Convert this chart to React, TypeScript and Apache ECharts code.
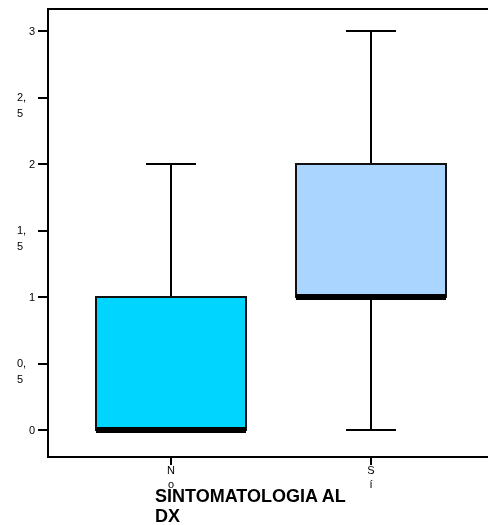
import React, { useEffect, useRef } from "react";
import * as echarts from "echarts";

// Box plot values for each group of SINTOMATOLOGIA AL DX
const categories = ["No", "Sí"];
const whiskerLow = [0, 0];
const q1 = [0, 1];
const medians = [0, 1];
const q3 = [1, 2];
const whiskerHigh = [2, 3];
const boxColors = ["#00D5FF", "#A9D5FF"];

// Y axis ticks; whole numbers and halves are labelled on separate axes
const yTicks = [0, 0.5, 1, 1.5, 2, 2.5, 3];
const yWholeLabels = [0, 1, 2, 3];
const yHalfLabels = [0.5, 1.5, 2.5];

const FONT = "Liberation Sans, Arial, Helvetica, sans-serif";

export default function App() {
  const ref = useRef<HTMLDivElement>(null);

  useEffect(() => {
    if (!ref.current) return;
    const chart = echarts.init(ref.current, null, { renderer: "svg" });

    const boxData = categories.map((_, i) => [
      i,
      whiskerLow[i],
      q1[i],
      medians[i],
      q3[i],
      whiskerHigh[i],
    ]);

    const renderItem = (params: any, api: any) => {
      const idx = api.value(0);
      const band = api.size([1, 0])[0];
      const boxW = band * 0.75;
      const capW = band * 0.25;
      const pLow = api.coord([idx, api.value(1)]);
      const pQ1 = api.coord([idx, api.value(2)]);
      const pMed = api.coord([idx, api.value(3)]);
      const pQ3 = api.coord([idx, api.value(4)]);
      const pHigh = api.coord([idx, api.value(5)]);
      const cx = pQ1[0];
      const lineStyle = { stroke: "#000", lineWidth: 2 };
      return {
        type: "group",
        children: [
          {
            type: "line",
            shape: { x1: cx, y1: pQ3[1], x2: cx, y2: pHigh[1] },
            style: lineStyle,
          },
          {
            type: "line",
            shape: { x1: cx - capW / 2, y1: pHigh[1], x2: cx + capW / 2, y2: pHigh[1] },
            style: lineStyle,
          },
          {
            type: "line",
            shape: { x1: cx, y1: pQ1[1], x2: cx, y2: pLow[1] },
            style: lineStyle,
          },
          {
            type: "line",
            shape: { x1: cx - capW / 2, y1: pLow[1], x2: cx + capW / 2, y2: pLow[1] },
            style: lineStyle,
          },
          {
            type: "rect",
            shape: {
              x: cx - boxW / 2,
              y: pQ3[1],
              width: boxW,
              height: pQ1[1] - pQ3[1],
            },
            style: { fill: boxColors[idx], stroke: "#111", lineWidth: 2 },
          },
          {
            type: "line",
            shape: { x1: cx - boxW / 2, y1: pMed[1], x2: cx + boxW / 2, y2: pMed[1] },
            style: { stroke: "#000", lineWidth: 6 },
          },
        ],
      };
    };

    const fmt = (v: number) => String(v).replace(".", ",");

    chart.setOption({
      animation: false,
      grid: { left: 71, right: 17, top: 9, bottom: 68 },
      xAxis: {
        type: "category",
        data: categories,
        boundaryGap: true,
        axisLine: { show: false, onZero: false },
        axisTick: {
          show: true,
          alignWithLabel: true,
          length: 8,
          lineStyle: { color: "#000", width: 2 },
        },
        axisLabel: {
          margin: 6,
          fontFamily: FONT,
          fontSize: 11,
          lineHeight: 14,
          color: "#000",
          formatter: (v: string) => v.split("").join("\n"),
        },
      },
      yAxis: [
        {
          type: "value",
          min: -0.203,
          max: 3.165,
          offset: 23,
          axisLine: { show: true, lineStyle: { color: "#000", width: 2 } },
          axisTick: {
            show: true,
            length: 10,
            customValues: yTicks,
            lineStyle: { color: "#000", width: 2 },
          },
          splitLine: { show: false },
          axisLabel: {
            customValues: yWholeLabels,
            margin: 13,
            fontFamily: FONT,
            fontSize: 11,
            color: "#000",
            formatter: (v: number) => fmt(v),
          },
        },
        {
          type: "value",
          position: "left",
          min: -0.203,
          max: 3.165,
          offset: 23,
          axisLine: { show: false },
          axisTick: { show: false },
          splitLine: { show: false },
          axisLabel: {
            customValues: yHalfLabels,
            margin: 31,
            align: "left",
            fontFamily: FONT,
            fontSize: 11,
            lineHeight: 16,
            color: "#000",
            formatter: (v: number) => " \n" + fmt(v).replace(",", ",\n"),
          },
        },
      ],
      graphic: [
        {
          type: "line",
          shape: { x1: 47, y1: 9, x2: 488, y2: 9 },
          style: { stroke: "#000", lineWidth: 2 },
        },
        {
          type: "line",
          shape: { x1: 47, y1: 457, x2: 488, y2: 457 },
          style: { stroke: "#000", lineWidth: 2 },
        },
        {
          type: "text",
          left: 155,
          top: 486,
          style: {
            text: "SINTOMATOLOGIA AL\nDX",
            font: `bold 18px ${FONT}`,
            lineHeight: 20,
            fill: "#000",
          },
        },
      ],
      series: [
        {
          type: "custom",
          renderItem,
          data: boxData,
          encode: { x: 0, y: [1, 2, 3, 4, 5] },
          clip: false,
        },
      ],
    });

    return () => chart.dispose();
  }, []);

  return (
    <div
      ref={ref}
      style={{ position: "fixed", left: 0, top: 0, width: 488, height: 525 }}
    />
  );
}
